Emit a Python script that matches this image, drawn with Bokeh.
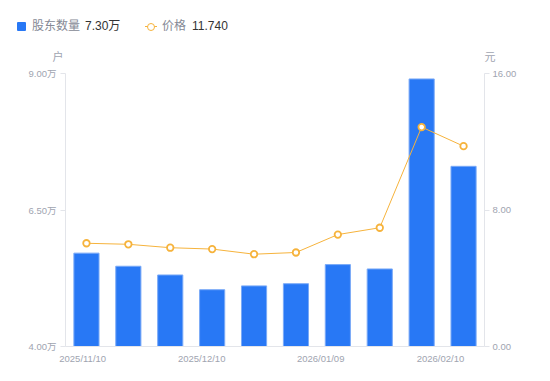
from bokeh.plotting import figure
from bokeh.layouts import column
from bokeh.models import Range1d, LinearAxis, FixedTicker, ColumnDataSource, Div
from bokeh.embed import file_html
from bokeh.resources import INLINE

# ---- data ----
tick_labels = ["2025/11/10", "2025/12/10", "2026/01/09", "2026/02/10"]
holders = [5.71, 5.47, 5.31, 5.04, 5.11, 5.15, 5.50, 5.42, 8.90, 7.30]   # 万户
prices = [6.05, 5.99, 5.79, 5.71, 5.41, 5.51, 6.56, 6.96, 12.86, 11.74]  # 元
left_ticks = [4.0, 6.5, 9.0]
right_ticks = [0.0, 8.0, 16.0]
legend_names = ["股东数量", "价格"]
legend_values = ["7.30万", "11.740"]
unit_labels = ["户", "元"]

FONT = "Liberation Sans, 'Noto Sans CJK SC', sans-serif"
AX = "#e3e5ea"
TXT = "#a0a4b0"
BLUE = "#2878f5"
ORANGE = "#f6b33c"

FW, FH = 419, 273
BL, BR, BB = 65, 58, 27
TOP_H = 66
W = BL + FW + BR

# ---- header: legend and axis unit labels ----
def span(style, text=""):
    return f'<span style="position:absolute;{style}">{text}</span>'

LY = 2  # legend row vertical nudge
parts = []
parts.append(span(f"left:17px;top:{20 + LY}px;width:9px;height:9px;background:{BLUE};border-radius:1px;"))
parts.append(span(f"left:145px;top:{23.75 + LY}px;width:12px;height:1.5px;background:{ORANGE};"))
parts.append(span(f"left:147px;top:{20.5 + LY}px;width:8px;height:8px;box-sizing:border-box;"
                  f"border:1.7px solid {ORANGE};border-radius:50%;background:#fff;"))
for name, val, nx, vx in zip(legend_names, legend_values, (32, 162), (85, 192)):
    parts.append(span(f"left:{nx}px;top:{17 + LY}px;line-height:15px;font-size:12px;color:#858995;"
                      "white-space:nowrap;", name))
    parts.append(span(f"left:{vx}px;top:{17 + LY}px;line-height:15px;font-size:12px;color:#333;"
                      "white-space:nowrap;", val))
for u, ux in zip(unit_labels, (58, 490)):
    parts.append(span(f"left:{ux - 10}px;top:50px;width:20px;text-align:center;"
                      f"line-height:14px;font-size:11px;color:{TXT};", u))
html = (f'<div style="position:relative;width:{W}px;height:{TOP_H}px;margin:0;padding:0;'
        f'font-family:{FONT};">' + "".join(parts) + "</div>")
hdr = Div(text=html, width=W, height=TOP_H, margin=0)

# ---- main chart ----
idx = list(range(len(holders)))
src = ColumnDataSource(dict(x=idx, h=holders, p=prices))

p = figure(frame_width=FW, frame_height=FH, output_backend="svg",
           toolbar_location=None, x_range=Range1d(-0.5, len(holders) - 0.5),
           y_range=Range1d(4.0, 9.0), min_border_left=BL, min_border_right=BR,
           min_border_top=73 - TOP_H, min_border_bottom=BB, y_axis_location=None)
p.extra_y_ranges = {"price": Range1d(0.0, 16.0)}
p.outline_line_color = None
p.grid.visible = False
p.background_fill_color = "white"
p.border_fill_color = "white"

p.vbar(x="x", top="h", bottom=4.0, width=0.6, source=src, fill_color=BLUE,
       line_color="#7aaaf7", line_width=1)
p.line(x="x", y="p", source=src, y_range_name="price", line_color=ORANGE, line_width=1)
p.scatter(x="x", y="p", source=src, y_range_name="price", size=6.5, fill_color="white",
          line_color=ORANGE, line_width=1.8)

la = LinearAxis(ticker=FixedTicker(ticks=left_ticks),
                major_label_overrides={t: f"{t:.2f}万" for t in left_ticks})
ra = LinearAxis(y_range_name="price", ticker=FixedTicker(ticks=right_ticks),
                major_label_overrides={t: f"{t:.2f}" for t in right_ticks})
for ax, so in ((la, 4), (ra, 3)):
    ax.axis_line_color = AX
    ax.major_tick_line_color = AX
    ax.major_tick_out = 5
    ax.major_tick_in = 0
    ax.minor_tick_line_color = None
    ax.major_label_standoff = so
    ax.major_label_text_color = TXT
    ax.major_label_text_font = FONT
    ax.major_label_text_font_size = "9.5px"
p.add_layout(la, "left")
p.add_layout(ra, "right")

xt = [-0.09, 2.75, 5.59, 8.45]
xa = p.xaxis[0]
xa.ticker = FixedTicker(ticks=xt)
xa.major_label_overrides = {t: s for t, s in zip(xt, tick_labels)}
xa.axis_line_color = AX
xa.major_tick_line_color = None
xa.major_tick_out = 0
xa.major_tick_in = 0
xa.minor_tick_line_color = None
xa.minor_tick_out = 0
xa.major_label_standoff = 6
xa.major_label_text_color = TXT
xa.major_label_text_font = FONT
xa.major_label_text_font_size = "9.5px"

layout = column(hdr, p, spacing=0)
open("out.html", "w").write(file_html(layout, INLINE))
